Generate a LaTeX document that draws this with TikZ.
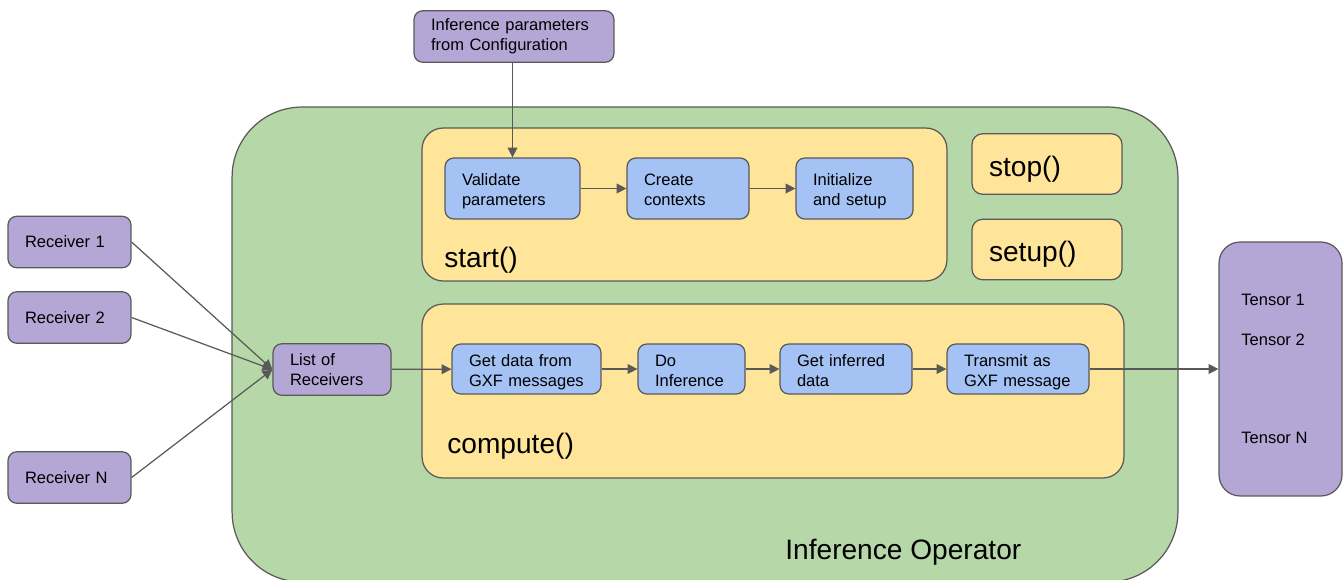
\documentclass[tikz,border=0pt]{standalone}
\usepackage{fontspec}
\setmainfont{Liberation Sans}
\usepackage{tikz}
\usetikzlibrary{
  arrows.meta,
  positioning
}
\definecolor{opGreen}{HTML}{B6D7A8}
\definecolor{opGold}{HTML}{FFE599}
\definecolor{opBlue}{HTML}{A4C2F4}
\definecolor{opPurple}{HTML}{B4A7D6}
\definecolor{opGray}{HTML}{595959}

\begin{document}
\begin{tikzpicture}[
  x=0.02cm, y=-0.02cm,
  font=\fontsize{9.4}{11.4}\selectfont,
  base/.style={
    draw=opGray,
    line width=0.7pt,
    align=left,
    inner xsep=0.34cm,
    inner ysep=0pt
  },
  task/.style={
    base,
    text height=10pt,
    text depth=13.4pt,
    rounded corners=5pt,
    fill=opBlue,
    minimum height=1.22cm
  },
  port/.style={
    base,
    rounded corners=5pt,
    fill=opPurple,
    minimum height=1.03cm
  },
  phase/.style={
    base,
    rounded corners=12pt,
    fill=opGold
  },
  method/.style={
    phase,
    text height=17.4pt,
    text depth=3.4pt,
    rounded corners=6pt,
    text width=2.32cm,
    minimum height=1.21cm,
    font=\fontsize{16}{19}\selectfont
  },
  biglabel/.style={
    inner sep=0pt,
    anchor=west,
    font=\fontsize{16}{19}\selectfont
  },
  arrow/.style={-{Triangle[length=5.6pt,width=5.6pt]}, line width=0.7pt, opGray}
]
\useasboundingbox (0,0) rectangle (1344,579);

% operator frame and its phases
\node[base, fill=opGreen, rounded corners=1.4cm,
  minimum width=18.92cm, minimum height=9.5cm] (op) at (705,344.5) {};
\node[biglabel] (oplabel) at (785,552) {Inference Operator};

\node[phase, minimum width=10.5cm, minimum height=3.06cm] (start) at (684.5,204.5) {};
\node[biglabel] (startlabel) at (444,260) {start()};
\node[phase, minimum width=14.04cm, minimum height=3.48cm] (compute) at (773,391) {};
\node[biglabel] (computelabel) at (447,446) {compute()};

\node[method] (stop) at (1047,164) {stop()};
\node[method] (setup) at (1047,249.5) {setup()};

% start() chain
\node[port, text width=3.32cm] (cfg) at (514,36.5)
  {Inference parameters\\from Configuration};
\node[task, text width=2.02cm] (validate) at (512.5,188.5) {Validate\\parameters};
\node[task, text width=1.76cm] (create) at (688,188.5) {Create\\contexts};
\node[task, text width=1.66cm] (init) at (854.5,188.5) {Initialize\\and setup};

% compute() chain
\node[task, text width=2.30cm, minimum height=1.0cm] (getdata) at (526.5,369)
  {Get data from\\GXF messages};
\node[task, text width=1.46cm, minimum height=1.0cm] (infer) at (691.5,369)
  {Do\\Inference};
\node[task, text width=1.96cm, minimum height=1.0cm] (inferred) at (846,369)
  {Get inferred\\data};
\node[task, text width=2.16cm, minimum height=1.0cm] (transmit) at (1018,369)
  {Transmit as\\GXF message};

% receivers
\node[port, text width=1.78cm] (rx1) at (69.5,242) {Receiver 1};
\node[port, text width=1.78cm] (rx2) at (69.5,317.5) {Receiver 2};
\node[port, text width=1.78cm] (rxn) at (69.5,477.5) {Receiver N};
\node[port, text width=1.68cm] (rxlist) at (332,369.5) {List of\\Receivers};

% output tensors
\node[base, fill=opPurple, rounded corners=12pt,
  minimum width=2.46cm, minimum height=5.08cm] (tensors) at (1280.5,369) {};
\node[anchor=west, inner sep=0pt] (t1) at (1241,300) {Tensor 1};
\node[anchor=west, inner sep=0pt] (t2) at (1241,340) {Tensor 2};
\node[anchor=west, inner sep=0pt] (tn) at (1241,438) {Tensor N};

\draw[arrow] (rx1.east) -- (rxlist.west);
\draw[arrow] (rx2.east) -- (rxlist.west);
\draw[arrow] (rxn.east) -- (rxlist.west);
\draw[arrow] (rxlist) -- (getdata);
\draw[arrow] (getdata) -- (infer);
\draw[arrow] (infer) -- (inferred);
\draw[arrow] (inferred) -- (transmit);
\draw[arrow] (transmit) -- (tensors);
\draw[arrow] (validate.north |- cfg.south) -- (validate.north);
\draw[arrow] (validate) -- (create);
\draw[arrow] (create) -- (init);

\end{tikzpicture}
\end{document}
